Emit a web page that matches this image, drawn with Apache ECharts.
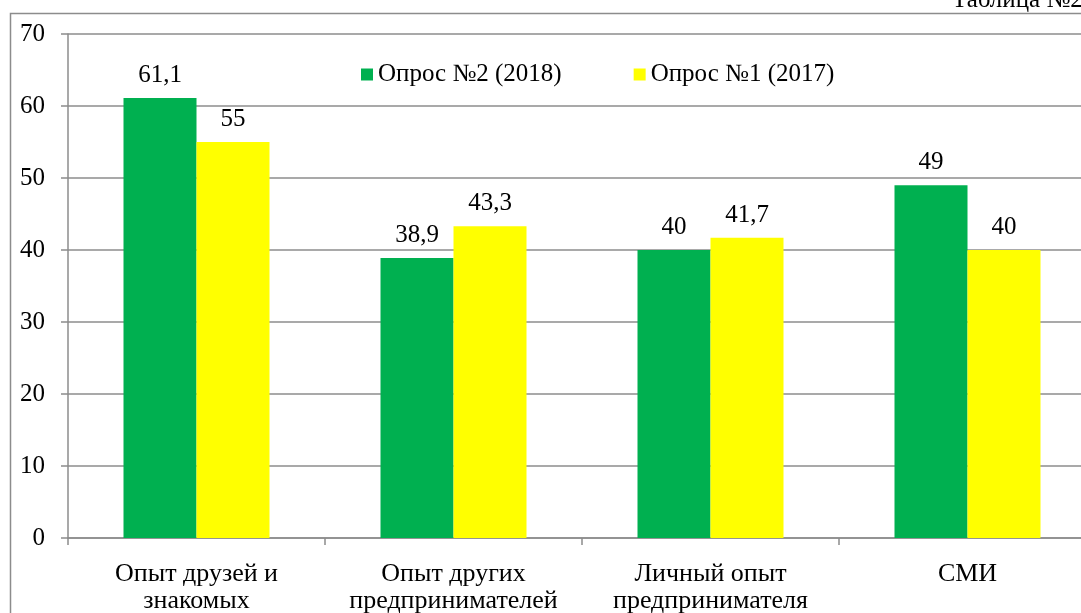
<!DOCTYPE html>
<html>
<head>
<meta charset="utf-8">
<script src="https://cdn.jsdelivr.net/npm/echarts@6/dist/echarts.min.js"></script>
<style>
  html, body { margin: 0; padding: 0; background: #fff; }
  #chart { width: 1081px; height: 613px; }
</style>
</head>
<body>
<div id="chart"></div>
<script>
// данные опроса
const categories = ['Опыт друзей и\nзнакомых', 'Опыт других\nпредпринимателей', 'Личный опыт\nпредпринимателя', 'СМИ'];
const survey2018 = [61.1, 38.9, 40, 49];
const survey2017 = [55, 43.3, 41.7, 40];
const seriesNames = ['Опрос №2 (2018)', 'Опрос №1 (2017)'];

const font = '"Liberation Serif", "Times New Roman", serif';

const chart = echarts.init(document.getElementById('chart'));

function labelFmt(p) {
  return String(p.value).replace('.', ',');
}

const option = {
  animation: false,
  textStyle: { fontFamily: font },
  graphic: [
    {
      type: 'rect',
      shape: { x: 10.5, y: 13.5, width: 1200, height: 800 },
      style: { fill: 'none', stroke: '#8c8c8c', lineWidth: 1.5 },
      z: -1
    },
    {
      type: 'text',
      left: 952,
      top: -12,
      style: { text: 'Таблица №2', font: '25px ' + font, fill: '#000' }
    }
  ],
  legend: {
    top: 57,
    left: 356,
    itemWidth: 12,
    itemHeight: 12,
    itemGap: 72,
    icon: 'rect',
    textStyle: { fontSize: 25, color: '#000', fontFamily: font },
    data: seriesNames
  },
  // правый край области построения уходит за окно, как в оригинале
  grid: { left: 68, top: 34, width: 1028, height: 504, outerBoundsMode: 'none' },
  xAxis: {
    type: 'category',
    data: categories,
    axisLine: { lineStyle: { color: '#8c8c8c', width: 1.5 } },
    axisTick: { show: true, length: 7, lineStyle: { color: '#8c8c8c', width: 1.5 } },
    axisLabel: { interval: 0, fontSize: 26, color: '#000', margin: 23, lineHeight: 27, fontFamily: font }
  },
  yAxis: {
    type: 'value',
    min: 0,
    max: 70,
    interval: 10,
    axisLine: { show: true, lineStyle: { color: '#8c8c8c', width: 1.5 } },
    axisTick: { show: true, length: 7, lineStyle: { color: '#8c8c8c', width: 1.5 } },
    splitLine: { lineStyle: { color: '#8c8c8c', width: 1.5 } },
    axisLabel: { fontSize: 25, color: '#000', margin: 23, fontFamily: font }
  },
  series: [
    {
      name: seriesNames[0],
      type: 'bar',
      data: survey2018,
      barWidth: 73,
      barGap: 0,
      itemStyle: { color: '#00b050' },
      label: { show: true, position: 'top', distance: 10, fontSize: 25, color: '#000', fontFamily: font, formatter: labelFmt }
    },
    {
      name: seriesNames[1],
      type: 'bar',
      data: survey2017,
      barWidth: 73,
      barGap: 0,
      itemStyle: { color: '#ffff00' },
      label: { show: true, position: 'top', distance: 10, fontSize: 25, color: '#000', fontFamily: font, formatter: labelFmt }
    }
  ]
};

chart.setOption(option);
</script>
</body>
</html>
